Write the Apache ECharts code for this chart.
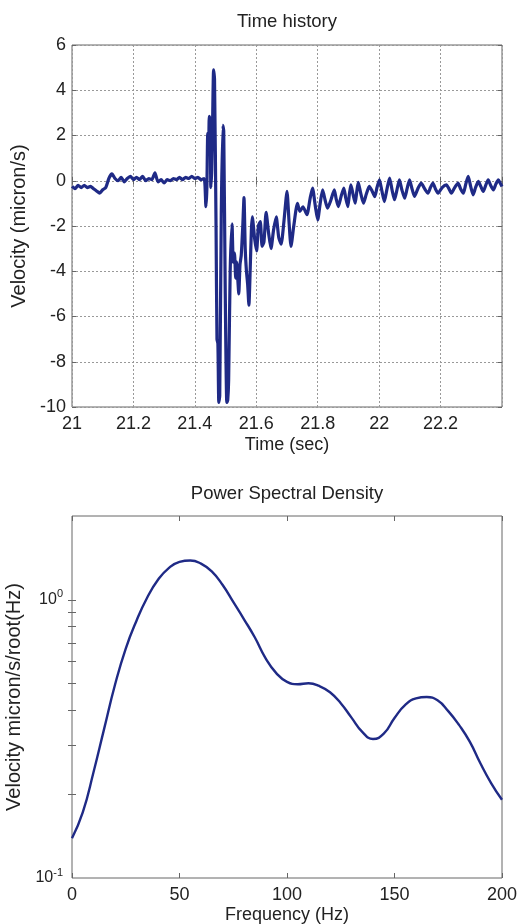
<!DOCTYPE html>
<html>
<head>
<meta charset="utf-8">
<script src="https://cdn.jsdelivr.net/npm/echarts@6/dist/echarts.min.js"></script>
<style>
html,body{margin:0;padding:0;background:#fff;}
#chart{width:517px;height:924px;}
</style>
</head>
<body>
<div id="chart"></div>
<script>
// ---- Time history data ----
const timeSec = [
 21.000,21.010,21.020,21.030,21.040,21.050,21.060,21.070,21.080,21.090,
 21.100,21.110,21.120,21.130,21.140,21.150,21.160,21.170,21.180,21.190,
 21.200,21.210,21.220,21.230,21.240,21.250,21.260,21.270,21.280,21.290,
 21.300,21.310,21.320,21.330,21.340,21.350,21.360,21.370,21.380,21.390,
 21.400,21.410,21.420,21.430,21.433,21.436,21.439,21.442,21.445,21.447,
 21.450,21.452,21.455,21.458,21.461,21.464,21.469,21.472,21.475,21.478,
 21.481,21.486,21.491,21.494,21.499,21.504,21.507,21.510,21.515,21.521,
 21.525,21.529,21.533,21.536,21.540,21.543,21.547,21.551,21.556,21.560,
 21.564,21.568,21.572,21.576,21.580,21.584,21.587,21.595,21.601,21.607,
 21.613,21.619,21.625,21.632,21.640,21.648,21.656,21.665,21.673,21.681,
 21.690,21.700,21.707,21.713,21.722,21.734,21.742,21.752,21.765,21.775,
 21.783,21.792,21.800,21.808,21.816,21.824,21.832,21.843,21.854,21.860,
 21.867,21.876,21.885,21.891,21.898,21.903,21.908,21.915,21.922,21.927,
 21.932,21.940,21.949,21.958,21.968,21.977,21.986,21.993,22.001,22.009,
 22.017,22.025,22.034,22.042,22.050,22.058,22.066,22.074,22.083,22.091,
 22.099,22.107,22.115,22.126,22.137,22.148,22.159,22.167,22.175,22.183,
 22.192,22.205,22.219,22.227,22.235,22.246,22.257,22.265,22.274,22.282,
 22.290,22.298,22.306,22.314,22.323,22.331,22.339,22.347,22.355,22.363,
 22.372,22.380,22.388,22.394,22.400
];
const velocity = [
 -0.25,-0.35,-0.20,-0.30,-0.20,-0.30,-0.25,-0.35,-0.45,-0.55,
 -0.40,-0.30,0.10,0.30,0.10,0.00,0.15,-0.05,0.10,0.20,
 0.05,0.15,0.05,0.20,0.00,0.10,0.05,0.35,-0.05,0.05,
 -0.10,0.05,0.00,0.10,0.05,0.15,0.05,0.15,0.10,0.20,
 0.10,0.15,0.05,0.10,-0.20,-1.15,-0.40,2.10,1.60,2.85,
 2.70,-0.30,0.50,2.80,4.90,4.50,-2.00,-7.00,-7.20,-9.80,
 -9.50,-1.50,2.45,2.20,-5.00,-9.80,-9.70,-8.80,-4.00,-1.90,
 -3.60,-3.20,-4.30,-3.60,-4.40,-5.00,-3.70,-3.30,-2.00,-0.75,
 -3.00,-4.00,-4.60,-5.50,-4.00,-2.20,-1.60,-2.60,-3.10,-2.00,
 -1.80,-2.90,-2.70,-1.40,-2.30,-3.00,-2.20,-1.60,-2.50,-2.80,
 -1.80,-0.47,-1.90,-2.90,-2.00,-1.00,-1.35,-1.15,-1.50,-0.80,
 -0.32,-1.10,-1.73,-1.00,-0.40,-0.85,-1.21,-0.85,-0.40,-0.80,
 -1.14,-0.70,-0.32,-0.75,-1.14,-0.60,-0.18,-0.60,-0.99,-0.50,
 -0.07,-0.55,-0.99,-0.60,-0.25,-0.45,-0.70,-0.30,0.04,-0.45,
 -0.92,-0.40,0.12,-0.40,-0.84,-0.40,0.04,-0.40,-0.77,-0.35,
 0.04,-0.35,-0.69,-0.35,-0.10,-0.35,-0.55,-0.30,-0.10,-0.35,
 -0.55,-0.30,-0.18,-0.35,-0.55,-0.30,-0.10,-0.35,-0.55,-0.15,
 0.19,-0.25,-0.62,-0.30,-0.03,-0.25,-0.47,-0.20,0.04,-0.20,
 -0.40,-0.15,0.04,-0.10,-0.25
];
const timeTickLabels = [21, 21.2, 21.4, 21.6, 21.8, 22, 22.2];
const velocityTicks = [-10, -8, -6, -4, -2, 0, 2, 4, 6];

// ---- Power spectral density data ----
const freqHz = [0,5,10,15,20,25,30,35,40,45,50,55,60,65,70,75,80,85,90,95,100,105,110,115,120,125,130,135,140,145,150,155,160,165,170,175,180,185,190,195,200];
const psd = [0.139,0.172,0.240,0.345,0.495,0.668,0.841,1.019,1.180,1.300,1.368,1.384,1.349,1.265,1.132,0.982,0.851,0.733,0.617,0.545,0.507,0.497,0.501,0.490,0.465,0.425,0.377,0.335,0.316,0.330,0.376,0.419,0.442,0.447,0.435,0.398,0.355,0.309,0.258,0.219,0.191];
const freqTicks = [0, 50, 100, 150, 200];
const psdMajorTicks = [0.1, 1];
const psdMinorTicks = [0.2,0.3,0.4,0.5,0.6,0.7,0.8,0.9,1];

const lineColor = '#1f2a86';
const frameColor = '#666';
const textColor = '#222';
const font = 'Liberation Sans, Arial, Helvetica, sans-serif';

const chart = echarts.init(document.getElementById('chart'), null, {renderer:'canvas'});

const tickStyle = {show:true, inside:true, length:4, lineStyle:{color:frameColor, width:1}};

const option = {
  animation: false,
  backgroundColor: '#fff',
  textStyle: {fontFamily: font},
  title: [
    {text:'Time history', left:287, top:12, textAlign:'center', padding:0,
     textStyle:{fontSize:18.5, fontWeight:'normal', color:textColor, fontFamily:font}},
    {text:'Power Spectral Density', left:287, top:484, textAlign:'center', padding:0,
     textStyle:{fontSize:18.5, fontWeight:'normal', color:textColor, fontFamily:font}}
  ],
  grid: [
    {left:72, top:45, width:430, height:362, show:true, borderColor:frameColor, borderWidth:1, backgroundColor:'#fff', containLabel:false, outerBoundsMode:'none'},
    {left:72, top:516, width:430, height:362, show:true, borderColor:frameColor, borderWidth:1, backgroundColor:'#fff', containLabel:false, outerBoundsMode:'none'}
  ],
  xAxis: [
    {gridIndex:0, type:'value', position:'bottom', min:21, max:22.4, interval:0.2,
     axisLine:{show:false}, axisTick:tickStyle,
     axisLabel:{customValues:timeTickLabels, fontSize:18, color:textColor, margin:8, fontFamily:font},
     splitLine:{show:true, lineStyle:{type:[2,2], color:'#999', width:1}},
     name:'Time (sec)', nameLocation:'middle', nameGap:29,
     nameTextStyle:{fontSize:18, color:textColor, fontFamily:font}},
    {gridIndex:0, type:'value', position:'top', min:21, max:22.4, interval:0.2,
     axisLine:{show:false}, axisTick:tickStyle, axisLabel:{show:false}, splitLine:{show:false}},
    {gridIndex:1, type:'value', position:'bottom', min:0, max:200, interval:50,
     axisLine:{show:false}, axisTick:Object.assign({}, tickStyle, {length:5}),
     axisLabel:{customValues:freqTicks, fontSize:18, color:textColor, margin:8, fontFamily:font},
     splitLine:{show:false},
     name:'Frequency (Hz)', nameLocation:'middle', nameGap:28,
     nameTextStyle:{fontSize:18, color:textColor, fontFamily:font}},
    {gridIndex:1, type:'value', position:'top', min:0, max:200, interval:50,
     axisLine:{show:false}, axisTick:Object.assign({}, tickStyle, {length:5}), axisLabel:{show:false}, splitLine:{show:false}}
  ],
  yAxis: [
    {gridIndex:0, type:'value', position:'left', min:-10, max:6, interval:2,
     axisLine:{show:false}, axisTick:tickStyle,
     axisLabel:{customValues:velocityTicks, fontSize:18, color:textColor, margin:6, fontFamily:font},
     splitLine:{show:true, lineStyle:{type:[2,2], color:'#999', width:1}},
     name:'Velocity (micron/s)', nameLocation:'middle', nameGap:40,
     nameTextStyle:{fontSize:20, color:textColor, fontFamily:font}},
    {gridIndex:0, type:'value', position:'right', min:-10, max:6, interval:2,
     axisLine:{show:false}, axisTick:tickStyle, axisLabel:{show:false}, splitLine:{show:false}},
    {gridIndex:1, type:'log', logBase:10, position:'left', min:0.1, max:2,
     axisLine:{show:false},
     axisTick:Object.assign({}, tickStyle, {customValues:psdMinorTicks}),
     axisLabel:{customValues:psdMajorTicks, margin:9, color:textColor,
       formatter:function(v){ const e = Math.round(Math.log10(v)); return '{b|10}{e|' + e + '}'; },
       rich:{b:{fontSize:16, lineHeight:22, color:textColor, fontFamily:font},
             e:{fontSize:11, verticalAlign:'top', color:textColor, fontFamily:font}}},
     splitLine:{show:false}, minorSplitLine:{show:false},
     name:'Velocity micron/s/root(Hz)', nameLocation:'middle', nameGap:40,
     nameTextStyle:{fontSize:20, color:textColor, fontFamily:font}},
    {gridIndex:1, type:'log', logBase:10, position:'right', min:0.1, max:2,
     axisLine:{show:false},
     axisTick:Object.assign({}, tickStyle, {customValues:psdMinorTicks}),
     axisLabel:{show:false}, splitLine:{show:false}}
  ],
  series: [
    {type:'line', xAxisIndex:0, yAxisIndex:0, showSymbol:false, symbol:'none', smooth:0.2,
     data: timeSec.map((t,i)=>[t, velocity[i]]),
     lineStyle:{color:lineColor, width:3.2}, itemStyle:{color:lineColor}, clip:true},
    {type:'line', xAxisIndex:2, yAxisIndex:2, showSymbol:false, symbol:'none', smooth:0.5,
     data: freqHz.map((f,i)=>[f, psd[i]]),
     lineStyle:{color:lineColor, width:2.4}, itemStyle:{color:lineColor}, clip:true}
  ]
};
chart.setOption(option);
</script>
</body>
</html>
